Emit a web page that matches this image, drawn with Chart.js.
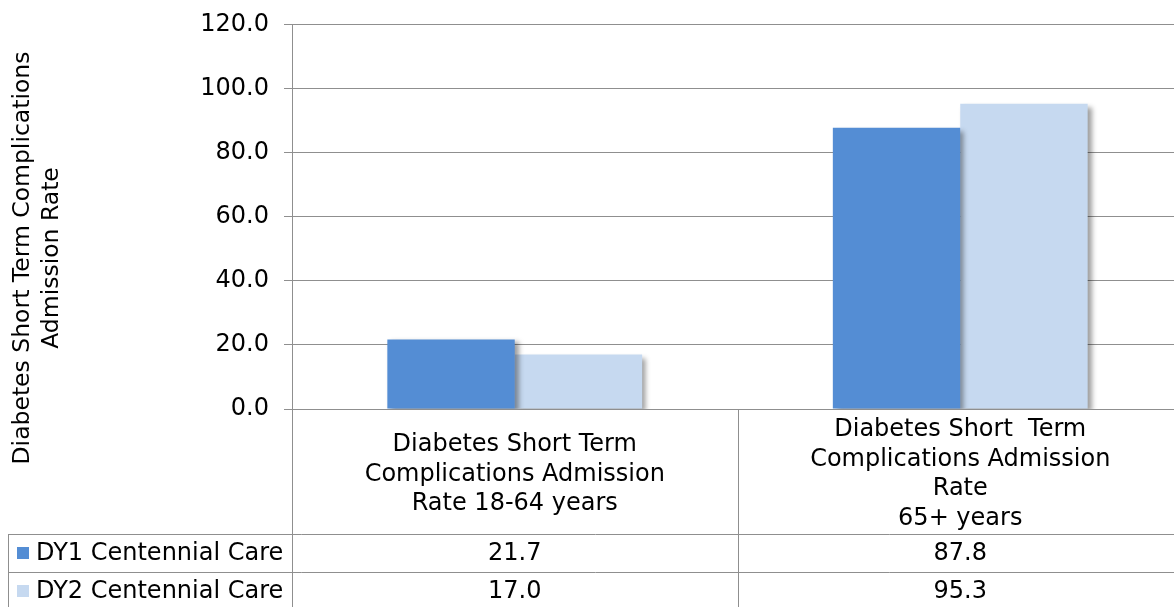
<!DOCTYPE html>
<html>
<head>
<meta charset="utf-8">
<script src="https://cdn.jsdelivr.net/npm/chart.js@4.4.1/dist/chart.umd.min.js"></script>
<style>
  html, body { margin: 0; padding: 0; background: #fff; overflow: hidden; }
  #wrap { width: 1183px; height: 607px; }
</style>
</head>
<body>
<div id="wrap"><canvas id="myChart" width="1183" height="607"></canvas></div>
<script>
// data
var categories = [
  ["Diabetes Short Term", "Complications Admission", "Rate 18-64 years"],
  ["Diabetes Short  Term", "Complications Admission", "Rate", "65+ years"]
];
var seriesNames = ["DY1 Centennial Care", "DY2 Centennial Care"];
var dy1 = [21.7, 87.8];
var dy2 = [17.0, 95.3];
var yTitle = ["Diabetes Short Term Complications", "Admission Rate"];
var yMin = 0, yMax = 120, yStep = 20;

var barColors = ["#548dd4", "#c6d9f0"];
var lineColor = "#8f8f8f";
var fontName = "'DejaVu Sans', Verdana, sans-serif";
var fontSize = 24;

// soft shadow behind the bars, like the office chart
var barShadow = {
  id: "barShadow",
  beforeDatasetsDraw: function(chart) {
    var ctx = chart.ctx;
    ctx.save();
    ctx.shadowColor = "rgba(0,0,0,0.38)";
    ctx.shadowBlur = 5;
    ctx.shadowOffsetX = 4;
    ctx.shadowOffsetY = 3;
  },
  afterDatasetsDraw: function(chart) {
    chart.ctx.restore();
  }
};

// y title + data table under the axis
var dataTable = {
  id: "dataTable",
  afterDraw: function(chart) {
    var ctx = chart.ctx;
    var area = chart.chartArea;
    var xs = chart.scales.x;
    var rowTop = xs.bottom;       // 534
    var rowH = 38;
    var H = chart.height;

    ctx.save();
    ctx.strokeStyle = lineColor;
    ctx.lineWidth = 1;
    ctx.beginPath();
    // y axis continues through the table
    ctx.moveTo(area.left + 0.5, area.top);
    ctx.lineTo(area.left + 0.5, H);
    // dividers between the categories
    for (var i = 1; i < categories.length; i++) {
      var xd = Math.round((xs.getPixelForValue(i - 1) + xs.getPixelForValue(i)) / 2) + 0.5;
      ctx.moveTo(xd, area.bottom);
      ctx.lineTo(xd, H);
    }
    // left border of the legend column
    ctx.moveTo(8.5, rowTop);
    ctx.lineTo(8.5, H);
    // row lines
    for (var r = 0; r < 3; r++) {
      var yy = Math.round(rowTop + r * rowH) + 0.5;
      ctx.moveTo(8, yy);
      ctx.lineTo(chart.width, yy);
    }
    ctx.stroke();

    ctx.font = fontSize + "px " + fontName;
    ctx.fillStyle = "#000";
    ctx.textBaseline = "middle";
    var rows = [dy1, dy2];
    for (var s = 0; s < rows.length; s++) {
      var cy = rowTop + s * rowH + rowH / 2;
      ctx.fillStyle = barColors[s];
      ctx.fillRect(17, Math.round(cy - 6), 12, 12);
      ctx.fillStyle = "#000";
      ctx.textAlign = "left";
      ctx.fillText(seriesNames[s], 36, cy + 1);
      ctx.textAlign = "center";
      for (var c = 0; c < rows[s].length; c++) {
        ctx.fillText(rows[s][c].toFixed(1), xs.getPixelForValue(c), cy + 1);
      }
    }

    // axis title, two lines, rotated
    ctx.save();
    ctx.font = "23.5px " + fontName;
    ctx.translate(0, 258);
    ctx.rotate(-Math.PI / 2);
    ctx.textAlign = "center";
    ctx.textBaseline = "alphabetic";
    ctx.fillText(yTitle[0], 0, 29);
    ctx.fillText(yTitle[1], 0, 58);
    ctx.restore();
    ctx.restore();
  }
};

new Chart("myChart", {
  type: "bar",
  data: {
    labels: categories,
    datasets: [
      { label: seriesNames[0], data: dy1, backgroundColor: barColors[0] },
      { label: seriesNames[1], data: dy2, backgroundColor: barColors[1] }
    ]
  },
  options: {
    responsive: false,
    animation: false,
    layout: { padding: { top: 24, left: 0, right: 0, bottom: 73 } },
    datasets: { bar: { categoryPercentage: 0.572, barPercentage: 1.0 } },
    plugins: {
      legend: { display: false },
      title: { display: false },
      tooltip: { enabled: false }
    },
    scales: {
      x: {
        grid: { display: false, drawTicks: false },
        border: { display: true, color: lineColor },
        ticks: {
          color: "#000",
          font: { family: fontName, size: fontSize, lineHeight: 1.23 },
          padding: 21,
          maxRotation: 0,
          autoSkip: false,
          crossAlign: "center"
        },
        afterFit: function(scale) { scale.height = 125; }
      },
      y: {
        min: yMin,
        max: yMax,
        grid: { color: lineColor, tickLength: 8 },
        border: { display: true, color: lineColor },
        ticks: {
          stepSize: yStep,
          color: "#000",
          padding: 15,
          font: { family: fontName, size: fontSize, lineHeight: 0.8 },
          callback: function(v) { return v.toFixed(1); }
        },
        afterFit: function(scale) { scale.width = 292; }
      }
    }
  },
  plugins: [barShadow, dataTable]
});
</script>
</body>
</html>
